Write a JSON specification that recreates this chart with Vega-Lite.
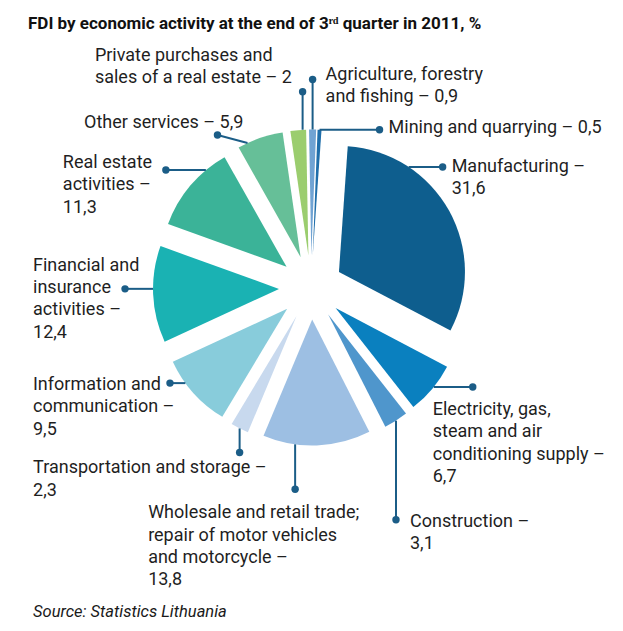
{
  "$schema": "https://vega.github.io/schema/vega-lite/v6.json",
  "background": "white",
  "padding": {"left": 28, "top": 15, "right": 5, "bottom": 5},
  "config": {"view": {"stroke": null}, "concat": {"spacing": 0}},
  "params": [
    {"name": "lay", "value": [
      {"d": -27.3, "hx": 34, "hy": 0, "dx": 9, "dy": 5, "a": "left"},
      {"d": -1, "hx": 39, "hy": 0, "dx": -40, "dy": 28, "a": "left"},
      {"d": 0, "hx": 0, "hy": 99, "dx": 14, "dy": 7, "a": "left"},
      {"d": 9.9, "hx": 0, "hy": 45, "dx": -147, "dy": 29, "a": "left"},
      {"d": 0, "hx": 0, "hy": 24, "dx": -206.5, "dy": 21, "a": "left"},
      {"d": 5.8, "hx": -15.4, "hy": 0, "dx": -137, "dy": 7, "a": "left"},
      {"d": 2.5, "hx": -28, "hy": 0, "dx": -92, "dy": -18, "a": "left"},
      {"d": 10, "hx": -40, "hy": 0, "dx": -103, "dy": -2, "a": "left"},
      {"d": -6.1, "hx": -30, "hy": -8, "dx": -133.4, "dy": -7, "a": "left"},
      {"d": 2, "hx": 0, "hy": -38, "dx": -207.7, "dy": -30.7, "a": "left"},
      {"d": 0, "hx": 0, "hy": -50, "dx": 13, "dy": 0, "a": "left"},
      {"d": 0, "hx": 60, "hy": 0, "dx": 9, "dy": 3.3, "a": "left"}
    ]}
  ],
  "title": {
    "text": "FDI by economic activity at the end of 3ʳᵈ quarter in 2011, %",
    "anchor": "start",
    "font": "Roboto",
    "fontSize": 17,
    "fontWeight": "bold",
    "color": "#111111",
    "offset": 6
  },
  "vconcat": [
    {
      "width": 566,
      "height": 497,
      "title": {
        "text": "Source: Statistics Lithuania",
        "orient": "bottom",
        "anchor": "start",
        "font": "Roboto",
        "fontSize": 16.5,
        "fontStyle": "italic",
        "fontWeight": "normal",
        "color": "#1a1a1a",
        "offset": 15,
        "dx": 5
      },
      "data": {"values": [
        {"i": 0, "name": "Manufacturing", "v": 31.6, "label": "Manufacturing –\n31,6"},
        {"i": 1, "name": "Electricity", "v": 6.7, "label": "Electricity, gas,\nsteam and air\nconditioning supply –\n6,7"},
        {"i": 2, "name": "Construction", "v": 3.1, "label": "Construction –\n3,1"},
        {"i": 3, "name": "Wholesale", "v": 13.8, "label": "Wholesale and retail trade;\nrepair of motor vehicles\nand motorcycle –\n13,8"},
        {"i": 4, "name": "Transportation", "v": 2.3, "label": "Transportation and storage –\n2,3"},
        {"i": 5, "name": "Information", "v": 9.5, "label": "Information and\ncommunication –\n9,5"},
        {"i": 6, "name": "Financial", "v": 12.4, "label": "Financial and\ninsurance\nactivities –\n12,4"},
        {"i": 7, "name": "Real estate", "v": 11.3, "label": "Real estate\nactivities –\n11,3"},
        {"i": 8, "name": "Other services", "v": 5.9, "label": "Other services – 5,9"},
        {"i": 9, "name": "Private purchases", "v": 2, "label": "Private purchases and\nsales of a real estate – 2"},
        {"i": 10, "name": "Agriculture", "v": 0.9, "label": "Agriculture, forestry\nand fishing – 0,9"},
        {"i": 11, "name": "Mining", "v": 0.5, "label": "Mining and quarrying – 0,5"}
      ]},
      "transform": [
        {"stack": "v", "groupby": [], "sort": [{"field": "i", "order": "ascending"}], "as": ["v_start", "v_end"]}
      ],
      "layer": [
        {
          "mark": {
            "type": "arc",
            "outerRadius": 126,
            "x": {"expr": "283+32*sin(0.0698+PI*(datum.v_start+datum.v_end)/100)"},
            "y": {"expr": "248.5-32*cos(0.0698+PI*(datum.v_start+datum.v_end)/100)"}
          },
          "encoding": {
            "theta": {"field": "v_start", "type": "quantitative", "stack": null, "scale": {"domain": [0, 100], "range": [0.0698, 6.353]}},
            "theta2": {"field": "v_end"},
            "color": {
              "field": "name", "type": "nominal", "legend": null,
              "scale": {
                "domain": ["Manufacturing", "Electricity", "Construction", "Wholesale", "Transportation", "Information", "Financial", "Real estate", "Other services", "Private purchases", "Agriculture", "Mining"],
                "range": ["#0e5e8e", "#0a80bf", "#4f96cc", "#9dbfe3", "#c8d9ee", "#88ccdb", "#1ab2b3", "#3bb398", "#66bf98", "#9bcd6e", "#70a3d3", "#1f6eaa"]
              }
            }
          }
        },
        {
          "mark": {"type": "rule", "color": "#1b5d87", "strokeWidth": 2},
          "encoding": {
            "x": {"value": {"expr": "283+32*sin(0.0698+PI*(datum.v_start+datum.v_end)/100)+126*sin(0.0698+PI*(datum.v_start+datum.v_end)/100+lay[datum.i].d*PI/180)"}},
            "y": {"value": {"expr": "248.5-32*cos(0.0698+PI*(datum.v_start+datum.v_end)/100)-126*cos(0.0698+PI*(datum.v_start+datum.v_end)/100+lay[datum.i].d*PI/180)"}},
            "x2": {"value": {"expr": "283+32*sin(0.0698+PI*(datum.v_start+datum.v_end)/100)+126*sin(0.0698+PI*(datum.v_start+datum.v_end)/100+lay[datum.i].d*PI/180)+lay[datum.i].hx"}},
            "y2": {"value": {"expr": "248.5-32*cos(0.0698+PI*(datum.v_start+datum.v_end)/100)-126*cos(0.0698+PI*(datum.v_start+datum.v_end)/100+lay[datum.i].d*PI/180)+lay[datum.i].hy"}}
          }
        },
        {
          "mark": {
            "type": "circle", "size": 55, "opacity": 1, "color": "#1b5d87",
            "x": {"expr": "283+32*sin(0.0698+PI*(datum.v_start+datum.v_end)/100)+126*sin(0.0698+PI*(datum.v_start+datum.v_end)/100+lay[datum.i].d*PI/180)+lay[datum.i].hx"},
            "y": {"expr": "248.5-32*cos(0.0698+PI*(datum.v_start+datum.v_end)/100)-126*cos(0.0698+PI*(datum.v_start+datum.v_end)/100+lay[datum.i].d*PI/180)+lay[datum.i].hy"}
          },
          "encoding": {}
        },
        {
          "mark": {
            "type": "text", "lineBreak": "\n", "font": "Roboto", "fontSize": 18, "lineHeight": 22.3,
            "baseline": "alphabetic", "align": {"expr": "lay[datum.i].a"}, "color": "#1f1f1f",
            "x": {"expr": "283+32*sin(0.0698+PI*(datum.v_start+datum.v_end)/100)+126*sin(0.0698+PI*(datum.v_start+datum.v_end)/100+lay[datum.i].d*PI/180)+lay[datum.i].hx+lay[datum.i].dx"},
            "y": {"expr": "248.5-32*cos(0.0698+PI*(datum.v_start+datum.v_end)/100)-126*cos(0.0698+PI*(datum.v_start+datum.v_end)/100+lay[datum.i].d*PI/180)+lay[datum.i].hy+lay[datum.i].dy"}
          },
          "encoding": {"text": {"field": "label", "type": "nominal"}}
        }
      ]
    }
  ]
}
